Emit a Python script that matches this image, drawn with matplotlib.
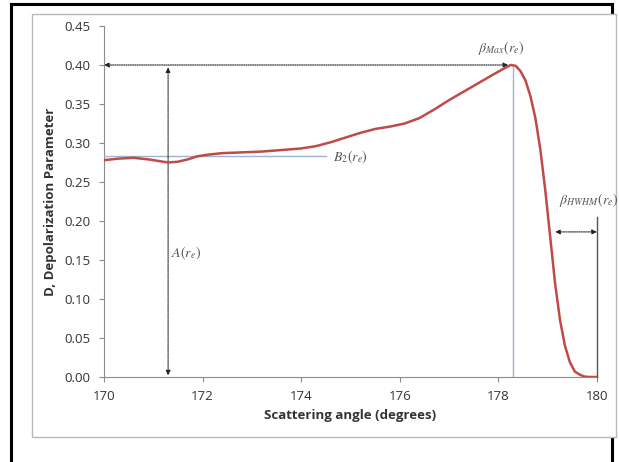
import matplotlib
matplotlib.use("Agg")
import matplotlib.pyplot as plt
from matplotlib.lines import Line2D
from matplotlib.patches import Rectangle

# Depolarization curve
angle = [170.0, 170.3, 170.6, 170.9, 171.1, 171.3, 171.5, 171.7, 171.9, 172.1,
         172.4, 172.8, 173.2, 173.6, 174.0, 174.3, 174.6, 174.9, 175.2, 175.5,
         175.8, 176.1, 176.4, 176.7, 177.0, 177.3, 177.6, 177.9, 178.1, 178.25,
         178.35, 178.45, 178.55, 178.65, 178.75, 178.85, 178.95, 179.05, 179.15,
         179.25, 179.35, 179.45, 179.55, 179.65, 179.75, 179.85, 180.0]
depol = [0.278, 0.280, 0.281, 0.279, 0.277, 0.275, 0.276, 0.279, 0.283, 0.285,
         0.287, 0.288, 0.289, 0.291, 0.293, 0.296, 0.301, 0.307, 0.313, 0.318,
         0.321, 0.325, 0.332, 0.343, 0.355, 0.366, 0.377, 0.388, 0.395, 0.400,
         0.399, 0.392, 0.380, 0.360, 0.332, 0.292, 0.240, 0.180, 0.120,
         0.073, 0.040, 0.019, 0.007, 0.003, 0.0005, 0.0, 0.0]

x_ticks = [170, 172, 174, 176, 178, 180]
y_ticks = [0.00, 0.05, 0.10, 0.15, 0.20, 0.25, 0.30, 0.35, 0.40, 0.45]

# annotation values
peak_angle = 178.3
peak_value = 0.40
a_angle = 171.3
b2_value = 0.283
b2_end = 174.5
hwhm_start = 179.15
hwhm_value = 0.186
hwhm_line_top = 0.205

plt.rcParams["mathtext.fontset"] = "stix"
W, H = 619, 462
fig = plt.figure(figsize=(6.19, 4.62), dpi=100)
fig.patch.set_facecolor("white")

def fx(px):
    return px / W

def fy(py):
    return 1 - py / H

# black page border behind the chart box
for xs, ys in [([11, 11], [4, 462]), ([11, 612], [4, 4]), ([612, 612], [4, 462])]:
    fig.add_artist(Line2D([fx(v) for v in xs], [fy(v) for v in ys],
                          transform=fig.transFigure, color="black", lw=2.2, zorder=-5))
fig.add_artist(Rectangle((fx(32), fy(437)), fx(616) - fx(32), fy(14) - fy(437),
                         transform=fig.transFigure, facecolor="white",
                         edgecolor="#b8b8b8", lw=1, zorder=-4))

ax = fig.add_axes([fx(104), fy(377), fx(597) - fx(104), fy(26) - fy(377)])
ax.patch.set_alpha(0)

ax.plot(angle, depol, color="#BE4B48", lw=1.8, zorder=5)

ax.set_xlim(170, 180)
ax.set_ylim(0, 0.45)
ax.set_xticks(x_ticks)
ax.set_yticks(y_ticks)
ax.set_yticklabels([f"{v:.2f}" for v in y_ticks])

for s in ["top", "right"]:
    ax.spines[s].set_visible(False)
for s in ["left", "bottom"]:
    ax.spines[s].set_color("#8c8c8c")
    ax.spines[s].set_linewidth(0.8)
ax.tick_params(direction="out", length=3.5, width=0.8, color="#8c8c8c",
               labelsize=9.5, labelcolor="#333333", pad=6)
for lbl in ax.get_xticklabels() + ax.get_yticklabels():
    lbl.set_family("Open Sans")

ax.set_xlabel("Scattering angle (degrees)", fontsize=9.5, fontweight="bold",
              family="Open Sans", color="#333333")
ax.set_ylabel("D, Depolarization Parameter", fontsize=9.5, fontweight="bold",
              family="Open Sans", color="#333333")
ax.xaxis.set_label_coords(0.5, -0.092)
ax.yaxis.set_label_coords(-0.095, 0.5)

# guide lines
blue = "#9fb4d0"
ax.plot([peak_angle, peak_angle], [0, peak_value], color=blue, lw=1, zorder=3)
ax.plot([170, b2_end], [b2_value, b2_value], color=blue, lw=1, zorder=3)
ax.plot([180, 180], [0, hwhm_line_top], color="#555555", lw=1, zorder=3, clip_on=False)

arrow = dict(arrowstyle="<|-|>", linestyle=(0, (1, 1)), color="#222222", lw=0.8,
             mutation_scale=7, shrinkA=0, shrinkB=0)
ax.annotate("", xy=(170, peak_value), xytext=(178.2, peak_value), arrowprops=arrow,
            annotation_clip=False)
ax.annotate("", xy=(a_angle, 0.002), xytext=(a_angle, peak_value - 0.003),
            arrowprops=arrow, annotation_clip=False)
ax.annotate("", xy=(hwhm_start, hwhm_value), xytext=(180, hwhm_value),
            arrowprops=arrow, annotation_clip=False)

tc = "#555555"
ax.text(a_angle + 0.06, 0.158, r"$A(r_e)$", fontsize=10, color=tc, va="center")
ax.text(b2_end + 0.15, b2_value - 0.001, r"$B_2(r_e)$", fontsize=10, color=tc, va="center")
ax.text(178.05, 0.422, r"$\beta_{Max}(r_e)$", fontsize=10, color=tc,
        ha="center", va="center")
ax.text(179.23, 0.227, r"$\beta_{HWHM}(r_e)$", fontsize=10, color=tc,
        ha="left", va="center", clip_on=False)

fig.savefig("out.png", dpi=100)
